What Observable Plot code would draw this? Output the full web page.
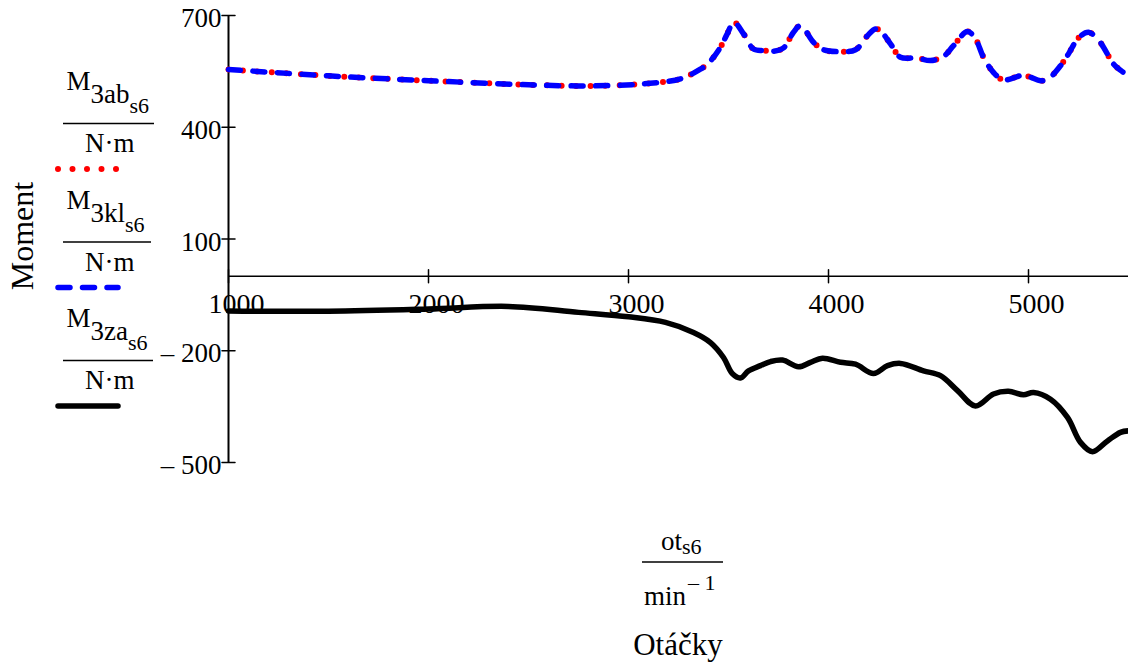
<!DOCTYPE html>
<html>
<head>
<meta charset="utf-8">
<script src="https://cdn.jsdelivr.net/npm/d3@7"></script>
<script src="https://cdn.jsdelivr.net/npm/@observablehq/plot@0.6"></script>
<style>
  body { margin: 0; background: #fff; }
  #chart { width: 1128px; height: 666px; }
</style>
</head>
<body>
<div id="chart"></div>
<script>
// ---- data ----
const rpmAb = [1000,1500,2000,2500,2800,3060,3260,3360,3400,3460,3493,3527,3575,3625,3675,3725,3775,3825,3860,3925,3975,4060,4135,4195,4235,4260,4310,4360,4445,4510,4575,4625,4695,4735,4775,4825,4875,4960,5000,5060,5095,5160,5200,5250,5300,5350,5375,5425,5475,5500];
const m3ab  = [555,538,525,514,511,516,530,556,572,615,650,682,651,610,606,604,613,655,673,628,608,603,608,646,664,658,624,588,586,579,590,619,657,637,588,547,527,538,536,525,528,565,597,640,655,634,615,570,547,538];
const rpmKl = [1000,1500,2000,2500,2800,3060,3260,3360,3400,3460,3493,3527,3575,3625,3675,3725,3775,3825,3860,3925,3975,4060,4135,4195,4235,4260,4310,4360,4445,4510,4575,4625,4695,4735,4775,4825,4875,4960,5000,5060,5095,5160,5200,5250,5300,5350,5375,5425,5475,5500];
const m3kl  = [555,538,525,514,511,516,530,556,572,615,650,682,651,610,606,604,613,655,673,628,608,603,608,646,664,658,624,588,586,579,590,619,657,637,588,547,527,538,536,525,528,565,597,640,655,634,615,570,547,538];
const rpmZa = [1000,1500,2000,2400,2750,3000,3185,3325,3410,3475,3520,3560,3600,3660,3710,3770,3850,3910,3970,4060,4135,4225,4295,4360,4475,4560,4645,4735,4825,4900,4975,5025,5110,5195,5260,5320,5395,5460,5500];
const m3za  = [-93,-94,-88,-81,-97,-109,-124,-151,-178,-218,-262,-273,-254,-240,-229,-225,-243,-231,-220,-231,-236,-261,-240,-234,-254,-267,-307,-348,-316,-309,-318,-312,-330,-379,-446,-471,-442,-419,-415];
const xTicks = [1000, 2000, 3000, 4000, 5000];
const yTicks = [700, 400, 100, -200, -500];
const xDomain = [1000, 5500];
const yDomain = [-500, 700];

// tables for Plot
const dataAb = rpmAb.map((r, i) => ({rpm: r, m: m3ab[i]}));
const dataKl = rpmKl.map((r, i) => ({rpm: r, m: m3kl[i]}));
const dataZa = rpmZa.map((r, i) => ({rpm: r, m: m3za[i]}));

const FONT = "'Liberation Serif', 'Times New Roman', serif";
const tickShape = {draw(ctx, l) { ctx.moveTo(0, 0); ctx.lineTo(0, -l); }};
const fmtY = d => d < 0 ? "\u2013 " + Math.abs(d) : String(d);

const chart = Plot.plot({
  width: 1128,
  height: 666,
  marginLeft: 228,
  marginRight: 0,
  marginTop: 15,
  marginBottom: 204,
  style: {fontFamily: FONT, background: "white", color: "black"},
  x: {domain: xDomain, axis: null},
  y: {domain: yDomain, axis: null},
  marks: [
    // axis lines
    Plot.ruleX([xDomain[0]], {stroke: "black", strokeWidth: 2}),
    Plot.ruleY([0], {stroke: "black", strokeWidth: 1.5}),
    // ticks crossing the axes
    Plot.vector(yTicks, {x: () => xDomain[0], y: d => d, length: 13, rotate: 90, anchor: "middle", shape: tickShape, stroke: "black", strokeWidth: 1.5}),
    Plot.vector(xTicks, {x: d => d, y: () => 0, length: 13, rotate: 0, anchor: "middle", shape: tickShape, stroke: "black", strokeWidth: 1.5}),
    // tick labels
    Plot.text(yTicks, {frameAnchor: "left", y: d => d, text: fmtY, textAnchor: "end", dx: -7, dy: 3, lineAnchor: "middle", fontSize: 27, fill: "black"}),
    Plot.text(xTicks, {x: d => d, y: () => 0, text: d => String(d), textAnchor: "middle", dx: 8, dy: 28, lineAnchor: "middle", fontSize: 28, fill: "black"}),
    // series
    Plot.line(dataAb, {x: "rpm", y: "m", stroke: "#ff0000", strokeWidth: 6, strokeDasharray: "0 14.5", strokeLinecap: "round", curve: "catmull-rom"}),
    Plot.line(dataKl, {x: "rpm", y: "m", stroke: "#0000ff", strokeWidth: 5.5, strokeDasharray: "12 12.5", strokeLinecap: "round", curve: "catmull-rom"}),
    Plot.line(dataZa, {x: "rpm", y: "m", stroke: "black", strokeWidth: 5.5, strokeLinecap: "round", strokeLinejoin: "round", curve: "catmull-rom"})
  ]
});
document.getElementById("chart").appendChild(chart);

// ---- labels & legend (decoration) ----
const svg = d3.select(chart);
const g = svg.append("g").attr("font-family", FONT).attr("fill", "black").attr("text-anchor", "start");

const legend = [
  {sub: "3ab", y: 90, barX2: 154, sample: {stroke: "#ff0000", width: 6, dash: "0 14.5"}},
  {sub: "3kl", y: 208.5, barX2: 151, sample: {stroke: "#0000ff", width: 5.5, dash: "12 12.5"}},
  {sub: "3za", y: 327, barX2: 153, sample: {stroke: "black", width: 5.5, dash: null}}
];
legend.forEach(e => {
  const t = g.append("text").attr("x", 66.5).attr("y", e.y).attr("font-size", 27);
  t.append("tspan").text("M");
  t.append("tspan").attr("dy", 13).text(e.sub);
  t.append("tspan").attr("dy", 10).attr("font-size", 22).text("s6");
  g.append("line").attr("x1", 63).attr("x2", e.barX2).attr("y1", e.y + 33.5).attr("y2", e.y + 33.5)
    .attr("stroke", "black").attr("stroke-width", 1.5);
  g.append("text").attr("x", 85).attr("y", e.y + 62).attr("font-size", 27).text("N\u00B7m");
  const s = g.append("line").attr("x1", 58).attr("x2", 118).attr("y1", e.y + 79).attr("y2", e.y + 79)
    .attr("stroke", e.sample.stroke).attr("stroke-width", e.sample.width).attr("stroke-linecap", "round");
  if (e.sample.dash) s.attr("stroke-dasharray", e.sample.dash);
});

g.append("text").attr("transform", "translate(33,236) rotate(-90)").attr("text-anchor", "middle")
  .attr("font-size", 32).text("Moment");

const xl = g.append("text").attr("x", 661).attr("y", 550).attr("font-size", 27);
xl.append("tspan").text("ot");
xl.append("tspan").attr("dy", 4).attr("font-size", 22).text("s6");
g.append("line").attr("x1", 642).attr("x2", 723).attr("y1", 562).attr("y2", 562)
  .attr("stroke", "black").attr("stroke-width", 1.5);
const xm = g.append("text").attr("x", 644).attr("y", 605).attr("font-size", 27);
xm.append("tspan").text("min");
xm.append("tspan").attr("dx", 2).attr("dy", -15).attr("font-size", 22).text("\u2013 1");
g.append("text").attr("x", 678).attr("y", 655).attr("text-anchor", "middle").attr("font-size", 31).text("Ot\u00E1\u010Dky");
</script>
</body>
</html>
